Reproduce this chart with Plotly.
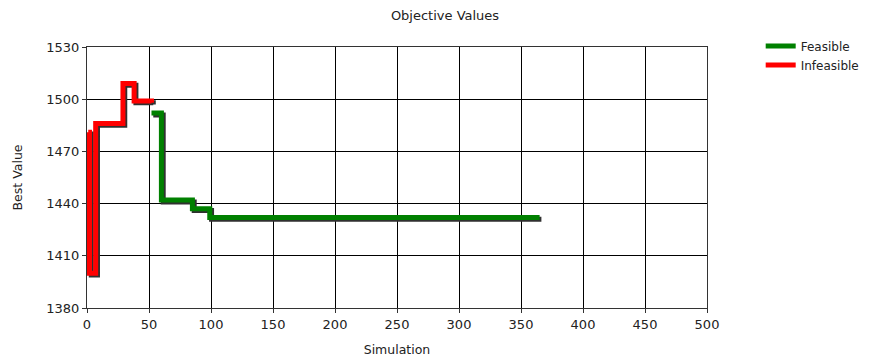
import plotly.graph_objects as go

# Data (step changes of best objective value per simulation)
infeasible_sim = [1, 2, 7, 29, 38, 52]
infeasible_val = [1481, 1400, 1486, 1509, 1499, 1498]
feasible_sim = [52, 60, 85, 99, 365]
feasible_val = [1492, 1442, 1437, 1432, 1432]

x_ticks = [0, 50, 100, 150, 200, 250, 300, 350, 400, 450, 500]
y_ticks = [1380, 1410, 1440, 1470, 1500, 1530]

FONT = "DejaVu Sans"
# the page body adds an 8px offset, so the figure is 8px smaller
W, H = 863, 353
L, T = 79, 39
pw, ph = 620, 261
R, B = W - L - pw, H - T - ph
xr = [0, 500]
yr = [1380, 1530]
# shadow offset (px) via shifted overlay axes
off = 1.8
dx = off * (xr[1] - xr[0]) / pw
dy = off * (yr[1] - yr[0]) / ph

fig = go.Figure()
# invisible anchor trace so the base axes (grid, ticks) render
fig.add_trace(go.Scatter(x=feasible_sim, y=feasible_val, mode="lines", opacity=0,
                         showlegend=False, hoverinfo="skip"))
shadow = dict(color="#303030", width=5, shape="hv")
fig.add_trace(go.Scatter(x=feasible_sim, y=feasible_val, mode="lines", line=shadow,
                         xaxis="x2", yaxis="y2", showlegend=False, hoverinfo="skip"))
fig.add_trace(go.Scatter(x=infeasible_sim, y=infeasible_val, mode="lines", line=shadow,
                         xaxis="x2", yaxis="y2", showlegend=False, hoverinfo="skip"))
fig.add_trace(go.Scatter(x=feasible_sim, y=feasible_val, mode="lines", name="Feasible",
                         xaxis="x3", yaxis="y3",
                         line=dict(color="#008000", width=5, shape="hv")))
fig.add_trace(go.Scatter(x=infeasible_sim, y=infeasible_val, mode="lines", name="Infeasible",
                         xaxis="x3", yaxis="y3",
                         line=dict(color="#ff0000", width=5, shape="hv")))

axis_common = dict(showgrid=True, gridcolor="black", gridwidth=1, linecolor="#333",
                   linewidth=1, mirror=True, ticks="outside", ticklen=4, tickcolor="#333",
                   zeroline=False, automargin=False,
                   tickfont=dict(family=FONT, size=13, color="#222"))
fig.update_layout(
    width=W, height=H,
    margin=dict(l=L, r=R, t=T, b=B, autoexpand=False),
    paper_bgcolor="white", plot_bgcolor="white",
    font=dict(family=FONT, size=12.5, color="black"),
    title=dict(text="Objective Values", x=437 / W, xanchor="center", y=1 - 7 / H,
               yanchor="middle", font=dict(family=FONT, size=13, color="#222"),
               automargin=False),
    xaxis=dict(range=xr, tickvals=x_ticks, **axis_common,
               title=dict(text="Simulation", font=dict(family=FONT, size=12.5, color="#222"),
                          standoff=14)),
    yaxis=dict(range=yr, tickvals=y_ticks, **axis_common,
               title=dict(text="Best Value", font=dict(family=FONT, size=12.5, color="#222"),
                          standoff=20)),
    xaxis2=dict(range=[xr[0] - dx, xr[1] - dx], overlaying="x", visible=False),
    yaxis2=dict(range=[yr[0] + dy, yr[1] + dy], overlaying="y", visible=False),
    xaxis3=dict(range=xr, overlaying="x", visible=False),
    yaxis3=dict(range=yr, overlaying="y", visible=False),
    legend=dict(x=1.0866, y=1.059, xanchor="left", yanchor="top", bgcolor="rgba(0,0,0,0)",
                font=dict(family=FONT, size=12, color="#222"), itemwidth=30,
                tracegroupgap=0),
)
fig.write_html("out.html")
